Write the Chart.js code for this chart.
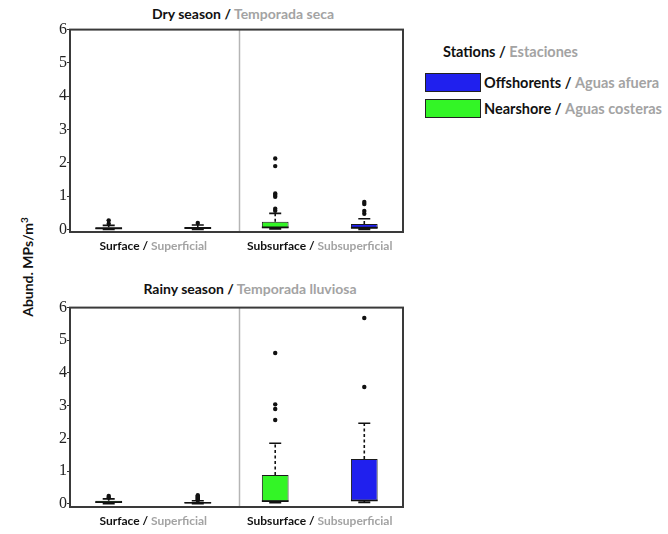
<!DOCTYPE html>
<html>
<head>
<meta charset="utf-8">
<script src="https://cdn.jsdelivr.net/npm/chart.js@4.4.0/dist/chart.umd.min.js"></script>
<style>
  body { margin: 0; background: #fff; width: 668px; height: 534px; position: relative; overflow: hidden; font-family: Lato, "Noto Sans", sans-serif; color: #111; }
  canvas { position: absolute; }
  .ttl { position: absolute; font-weight: bold; font-size: 14px; white-space: nowrap; transform: translate(-50%, -50%); }
  .gray { color: #a3a3a3; }
  #ytitle { position: absolute; left: 27px; top: 267px; font-weight: bold; font-size: 14px; white-space: nowrap; transform: translate(-50%, -50%) rotate(-90deg); }
  #ytitle sup { font-size: 10px; }
  #legendHead { position: absolute; left: 443px; top: 51px; font-weight: bold; font-size: 14.5px; white-space: nowrap; transform: translateY(-50%); }
  .lrow { position: absolute; left: 425px; height: 19px; display: flex; align-items: center; font-weight: bold; font-size: 14.5px; white-space: nowrap; }
  .sw { width: 54px; height: 17px; border: 1px solid #222; margin-right: 3px; }
</style>
</head>
<body>
<div class="ttl" style="left:243px; top:13px">Dry season / <span class="gray">Temporada seca</span></div>
<div class="ttl" style="left:250px; top:288px">Rainy season / <span class="gray">Temporada lluviosa</span></div>
<div id="ytitle">Abund. MPs/m<sup>3</sup></div>
<div id="legendHead">Stations / <span class="gray">Estaciones</span></div>
<div id="legend"></div>
<canvas id="dry" width="370" height="240" style="left:40px; top:20px"></canvas>
<canvas id="rainy" width="370" height="235" style="left:40px; top:298px"></canvas>
<script>
// categories (english / spanish)
const catEn = ['Surface', 'Subsurface'];
const catEs = ['Superficial', 'Subsuperficial'];
// stations
const stationEn = ['Nearshore', 'Offshorents'];
const stationEs = ['Aguas costeras', 'Aguas afuera'];
const stationColors = ['#33f526', '#2020ee'];
const yTicks = [0, 1, 2, 3, 4, 5, 6];

// Dry season - Nearshore
const dryNearLo = [0.0, 0.01];
const dryNearQ1 = [0.01, 0.03];
const dryNearMed = [0.03, 0.06];
const dryNearQ3 = [0.06, 0.23];
const dryNearHi = [0.12, 0.48];
const dryNearOut = [[0.17, 0.27], [0.56, 0.62, 0.98, 1.03, 1.08, 1.9, 2.13]];
// Dry season - Offshore
const dryOffLo = [0.0, 0.0];
const dryOffQ1 = [0.01, 0.02];
const dryOffMed = [0.04, 0.05];
const dryOffQ3 = [0.07, 0.16];
const dryOffHi = [0.13, 0.32];
const dryOffOut = [[0.19], [0.47, 0.55, 0.76, 0.82]];
// Rainy season - Nearshore
const rainNearLo = [0.0, 0.03];
const rainNearQ1 = [0.02, 0.07];
const rainNearMed = [0.05, 0.08];
const rainNearQ3 = [0.09, 0.88];
const rainNearHi = [0.15, 1.85];
const rainNearOut = [[0.19, 0.24], [2.56, 2.9, 3.04, 4.61]];
// Rainy season - Offshore
const rainOffLo = [0.0, 0.04];
const rainOffQ1 = [0.01, 0.09];
const rainOffMed = [0.03, 0.1];
const rainOffQ3 = [0.05, 1.37];
const rainOffHi = [0.09, 2.46];
const rainOffOut = [[0.11, 0.14, 0.17, 0.2, 0.23, 0.26], [3.57, 5.68]];

// legend (offshore listed first)
const legend = document.getElementById('legend');
[1, 0].forEach((s, k) => {
    const row = document.createElement('div');
    row.className = 'lrow';
    row.style.top = (73 + k * 26) + 'px';
    row.innerHTML = '<div class="sw" style="background:' + stationColors[s] + '"></div>' +
        stationEn[s] + '&nbsp;/&nbsp;<span class="gray">' + stationEs[s] + '</span>';
    legend.appendChild(row);
});

// whiskers, medians, outliers, frame, divider, two-colour category labels
const boxExtras = {
    id: 'boxExtras',
    beforeDatasetsDraw(chart) {
        const ctx = chart.ctx, a = chart.chartArea, x = chart.scales.x;
        const mid = (x.getPixelForValue(0) + x.getPixelForValue(1)) / 2 + 3;
        ctx.save();
        ctx.strokeStyle = '#b5b5b5';
        ctx.lineWidth = 1.5;
        ctx.beginPath();
        ctx.moveTo(mid, a.top);
        ctx.lineTo(mid, a.bottom);
        ctx.stroke();
        ctx.restore();
    },
    afterDatasetsDraw(chart) {
        const ctx = chart.ctx, y = chart.scales.y, x = chart.scales.x, a = chart.chartArea;
        ctx.save();
        chart.data.datasets.forEach((ds, di) => {
            const st = ds.stats;
            chart.getDatasetMeta(di).data.forEach((bar, i) => {
                const cx = bar.x, w = bar.width;
                const pLo = y.getPixelForValue(st.lo[i]);
                const pQ1 = y.getPixelForValue(ds.data[i][0]);
                const pQ3 = y.getPixelForValue(ds.data[i][1]);
                const pHi = y.getPixelForValue(st.hi[i]);
                const pMed = y.getPixelForValue(st.med[i]);
                ctx.strokeStyle = '#111';
                ctx.lineWidth = 1.6;
                ctx.setLineDash([3, 2.5]);
                ctx.beginPath();
                ctx.moveTo(cx, pQ3); ctx.lineTo(cx, pHi);
                ctx.moveTo(cx, pQ1); ctx.lineTo(cx, pLo);
                ctx.stroke();
                ctx.setLineDash([]);
                ctx.beginPath();
                ctx.moveTo(cx - 6, pHi); ctx.lineTo(cx + 6, pHi);
                ctx.moveTo(cx - 6, pLo); ctx.lineTo(cx + 6, pLo);
                ctx.moveTo(cx - w / 2, pMed); ctx.lineTo(cx + w / 2, pMed);
                ctx.stroke();
                ctx.fillStyle = '#111';
                st.out[i].forEach(v => {
                    ctx.beginPath();
                    ctx.arc(cx, y.getPixelForValue(v), 2.2, 0, Math.PI * 2);
                    ctx.fill();
                });
            });
        });
        // frame
        ctx.strokeStyle = '#3a3a3a';
        ctx.lineWidth = 2;
        ctx.strokeRect(a.left, a.top, a.right - a.left, a.bottom - a.top);
        // category labels
        ctx.font = 'bold 12px Lato, "Noto Sans", sans-serif';
        ctx.textBaseline = 'middle';
        chart.data.labels.forEach((lab, i) => {
            const first = lab + ' / ', second = catEs[i];
            const w1 = ctx.measureText(first).width, w2 = ctx.measureText(second).width;
            const left = x.getPixelForValue(i) - (w1 + w2) / 2;
            const ty = a.bottom + 14;
            ctx.textAlign = 'left';
            ctx.fillStyle = '#111';
            ctx.fillText(first, left, ty);
            ctx.fillStyle = '#a3a3a3';
            ctx.fillText(second, left + w1, ty);
        });
        ctx.restore();
    }
};

function makeChart(id, yMin, near, off) {
    const mk = (s, d) => ({
        label: stationEn[s],
        data: d.q1.map((v, i) => [v, d.q3[i]]),
        stats: { lo: d.lo, hi: d.hi, med: d.med, out: d.out },
        backgroundColor: stationColors[s],
        borderColor: '#1a1a1a',
        borderWidth: 1,
        borderSkipped: false,
        categoryPercentage: 1.07,
        barPercentage: 0.3
    });
    return new Chart(document.getElementById(id), {
        type: 'bar',
        data: { labels: catEn, datasets: [mk(0, near), mk(1, off)] },
        options: {
            responsive: false,
            animation: false,
            layout: { padding: { left: 0, right: 7, top: 9, bottom: 0 } },
            plugins: { legend: { display: false }, tooltip: { enabled: false } },
            scales: {
                x: {
                    ticks: { display: false },
                    grid: { display: false },
                    border: { display: false },
                    afterFit: s => { s.height = (id === 'dry') ? 28 : 26; }
                },
                y: {
                    min: yMin,
                    max: 6,
                    afterBuildTicks: s => { s.ticks = yTicks.map(v => ({ value: v })); },
                    afterFit: s => { s.width = 30; },
                    ticks: { font: { family: 'Liberation Serif', size: 16 }, color: '#222', padding: 0 },
                    grid: { drawOnChartArea: false, tickLength: 3, color: '#333' },
                    border: { display: false }
                }
            }
        },
        plugins: [boxExtras]
    });
}

makeChart('dry', -0.08,
    { lo: dryNearLo, q1: dryNearQ1, med: dryNearMed, q3: dryNearQ3, hi: dryNearHi, out: dryNearOut },
    { lo: dryOffLo, q1: dryOffQ1, med: dryOffMed, q3: dryOffQ3, hi: dryOffHi, out: dryOffOut });
makeChart('rainy', -0.1,
    { lo: rainNearLo, q1: rainNearQ1, med: rainNearMed, q3: rainNearQ3, hi: rainNearHi, out: rainNearOut },
    { lo: rainOffLo, q1: rainOffQ1, med: rainOffMed, q3: rainOffQ3, hi: rainOffHi, out: rainOffOut });
</script>
</body>
</html>
